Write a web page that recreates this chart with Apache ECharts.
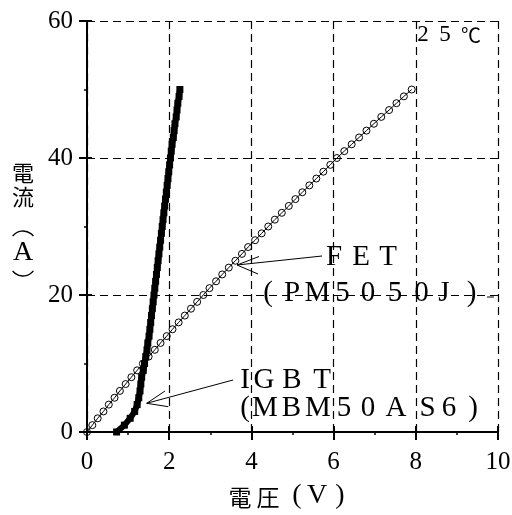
<!DOCTYPE html>
<html><head><meta charset="utf-8">
<script src="https://cdn.jsdelivr.net/npm/echarts@6/dist/echarts.min.js"></script>
<style>html,body{margin:0;padding:0;background:#fff}#c{width:512px;height:515px}</style>
</head><body><div id="c"></div>
<script>
// ---- data ----
const fetCurrent = [0,1,2,3,4,5,6,7,8,9,10,11,12,13,14,15,16,17,18,19,20,21,22,23,24,25,26,27,28,29,30,31,32,33,34,35,36,37,38,39,40,41,42,43,44,45,46,47,48,49,50];
const fetVoltage = [0,0.13,0.26,0.40,0.53,0.67,0.80,0.94,1.08,1.22,1.36,1.50,1.65,1.79,1.94,2.08,2.23,2.38,2.53,2.68,2.83,2.98,3.14,3.29,3.45,3.61,3.77,3.92,4.09,4.25,4.41,4.57,4.74,4.91,5.07,5.24,5.41,5.58,5.75,5.92,6.08,6.26,6.44,6.62,6.80,6.98,7.16,7.35,7.53,7.71,7.90];
const igbtCurrent = [0,1,2,3,4,5,6,7,8,9,10,11,12,13,14,15,16,17,18,19,20,21,22,23,24,25,26,27,28,29,30,31,32,33,34,35,36,37,38,39,40,41,42,43,44,45,46,47,48,49,50];
const igbtVoltage = [0.72,0.91,1.05,1.16,1.22,1.26,1.29,1.31,1.33,1.37,1.40,1.43,1.46,1.48,1.51,1.53,1.55,1.57,1.59,1.61,1.63,1.65,1.67,1.69,1.71,1.73,1.75,1.77,1.79,1.81,1.83,1.85,1.87,1.89,1.91,1.93,1.95,1.97,1.99,2.01,2.03,2.05,2.07,2.10,2.12,2.14,2.17,2.19,2.21,2.24,2.26];
const xRange = [0, 10, 2];   // min, max, interval
const yRange = [0, 60, 20];
const fetLabel = ['F','E','T'];
const fetModel = ['(','P','M','5','0','5','0','J',')'];
const igbtLabel = ['I','G','B','T'];
const igbtModel = ['(','M','B','M','5','0','A','S','6',')'];
const tempLabel = ['2','5','℃'];
const xName = ['電','圧','(','V',')'];
const yName = ['電','流','A'];

const SERIF = '"Liberation Serif","DejaVu Serif",serif';
const CJK = '"Noto Sans CJK JP","Noto Sans CJK SC",sans-serif';

function zip(xs, ys){ return xs.map((x,i)=>[x, ys[i]]); }
function ch(text, x, y, size, family){
  return {type:'text', x:x, y:y, silent:true,
    style:{text:text, fill:'#000', fontSize:size, fontFamily:family, textAlign:'center', textVerticalAlign:'middle'}};
}
function row(chars, xs, y, size){
  return chars.map((c,i)=>ch(c, xs[i], y, size, SERIF));
}
function seg(x1,y1,x2,y2){
  return {type:'line', silent:true, shape:{x1,y1,x2,y2}, style:{stroke:'#000', lineWidth:1}};
}
function arc(cx,cy,r,a0,a1){
  return {type:'arc', silent:true, shape:{cx,cy,r,startAngle:a0,endAngle:a1,clockwise:true}, style:{stroke:'#000', lineWidth:1.4, fill:null}};
}

const graphics = [].concat(
  row(fetLabel, [334,361,388], 257, 29),
  row(fetModel, [268,292,317.5,342.5,368,395,421.5,444,471.5], 293, 29),
  row(igbtLabel, [245,264,292,322], 380, 29),
  row(igbtModel, [245,265,291.5,318,344,368,396,427.5,449,473], 408, 29),
  [ch(tempLabel[0],423,35,23,SERIF), ch(tempLabel[1],445,35,23,SERIF), ch(tempLabel[2],471,35,20,CJK)],
  [ch(xName[0],240,497,23,CJK), ch(xName[1],268,497,23,CJK), ch(xName[2],297,496,28,SERIF), ch(xName[3],317,496,28,SERIF), ch(xName[4],340,496,28,SERIF)],
  [ch(yName[0],23,173,22,CJK), ch(yName[1],23,197,22,CJK), ch(yName[2],23,253,28,SERIF),
   arc(23,244,13,Math.PI+0.65,2*Math.PI-0.65), arc(23,263,13,0.65,Math.PI-0.65)],
  [seg(237,265,322,256), seg(237,265,259,256.5), seg(237,265,258,274), seg(487,297,494,297),
   seg(146.7,403.3,233,380), seg(146.7,403.3,165,391), seg(146.7,403.3,168.3,406.7)]
);

const dash = {show:true, lineStyle:{color:'#000', width:1.2, type:[8,5]}};
const chart = echarts.init(document.getElementById('c'), null, {renderer:'canvas'});
chart.setOption({
  animation:false,
  backgroundColor:'#fff',
  grid:{left:87, right:14, top:21, bottom:83, containLabel:false, outerBoundsMode:'none'},
  xAxis:[{
    type:'value', min:xRange[0], max:xRange[1], interval:xRange[2], position:'bottom',
    axisLine:{show:true, onZero:false, lineStyle:{color:'#000', width:2}},
    axisTick:{show:true, inside:false, length:8, lineStyle:{color:'#000', width:2}},
    minorTick:{show:true, splitNumber:2, length:3, lineStyle:{color:'#000', width:1.5}},
    axisLabel:{color:'#000', fontSize:25, fontFamily:SERIF, margin:18, showMinLabel:true, showMaxLabel:true},
    splitLine:dash
  },{
    type:'value', min:xRange[0], max:xRange[1], interval:xRange[2], position:'bottom', offset:0,
    axisLine:{show:false, onZero:false}, axisLabel:{show:false}, splitLine:{show:false},
    axisTick:{show:true, inside:true, length:6, lineStyle:{color:'#000', width:2}}
  }],
  yAxis:[{
    type:'value', min:yRange[0], max:yRange[1], interval:yRange[2], position:'left',
    axisLine:{show:true, onZero:false, lineStyle:{color:'#000', width:2}},
    axisTick:{show:true, inside:false, length:8, lineStyle:{color:'#000', width:2}},
    minorTick:{show:true, splitNumber:2, length:3, lineStyle:{color:'#000', width:1.5}},
    axisLabel:{color:'#000', fontSize:25, fontFamily:SERIF, margin:14},
    splitLine:dash
  },{
    type:'value', min:yRange[0], max:yRange[1], interval:yRange[2], position:'left', offset:0,
    axisLine:{show:false, onZero:false}, axisLabel:{show:false}, splitLine:{show:false},
    axisTick:{show:true, inside:true, length:5, lineStyle:{color:'#000', width:2}}
  }],
  series:[{
    name:'IGBT (MBM50AS6)', type:'line', xAxisIndex:0, yAxisIndex:0,
    data:zip(igbtVoltage, igbtCurrent),
    symbol:'rect', symbolSize:7, showAllSymbol:true,
    lineStyle:{color:'#000', width:6},
    itemStyle:{color:'#000'},
    emphasis:{disabled:true}
  },{
    name:'FET (PM5050J)', type:'line', xAxisIndex:0, yAxisIndex:0,
    data:zip(fetVoltage, fetCurrent),
    symbol:'circle', symbolSize:7, showAllSymbol:true,
    lineStyle:{color:'#000', width:1},
    itemStyle:{color:'rgba(255,255,255,0)', borderColor:'#000', borderWidth:1},
    emphasis:{disabled:true}
  }],
  graphic:graphics
});
</script></body></html>
